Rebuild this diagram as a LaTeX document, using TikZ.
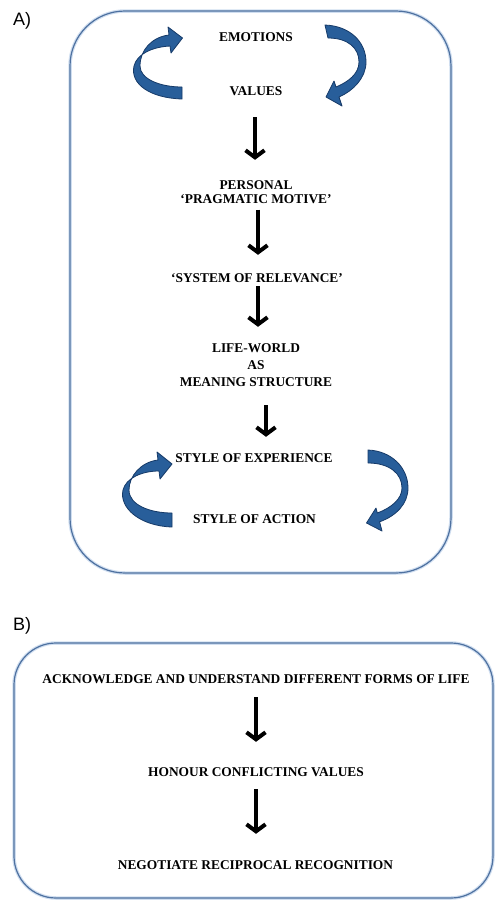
\documentclass[tikz,border=0pt]{standalone}
\usepackage{fontspec}
\setmainfont{Liberation Serif}
\newfontfamily\panelfont{Liberation Sans}
\usetikzlibrary{arrows.meta}
\definecolor{frameblue}{RGB}{78,113,160}
\definecolor{glowblue}{RGB}{208,222,240}
\definecolor{ribbon}{RGB}{40,94,154}
\definecolor{ribbonedge}{RGB}{22,58,104}
\tikzset{
  txt/.style={font=\bfseries\fontsize{13.4}{15}\selectfont, inner sep=0pt, text height=9pt, text depth=0pt},
  panel/.style={font=\panelfont\fontsize{18}{20}\selectfont, inner sep=0pt, anchor=west},
  flow/.style={line width=4pt, -{Straight Barb[length=7pt,width=19pt]}},
  glow/.style={draw=glowblue, line width=3.5pt},
  frame/.style={draw=frameblue, line width=1.2pt},
  ribbonpath/.style={fill=ribbon, draw=ribbonedge, line width=0.8pt, line join=round}
}

\begin{document}
\begin{tikzpicture}[x=1pt, y=-1pt]
    \useasboundingbox (0,0) rectangle (500,908);
    % Panel labels.
    \node[panel] (labA) at (13, 21) {A)};
    \node[panel] (labB) at (13, 626) {B)};
    % Frames.
    \draw[glow, rounded corners=55pt] (70, 11) rectangle (451, 573);
    \draw[frame, rounded corners=55pt] (70, 11) rectangle (451, 573);
    \draw[glow, rounded corners=42pt] (14, 643) rectangle (493, 898);
    \draw[frame, rounded corners=42pt] (14, 643) rectangle (493, 898);
    % Panel A texts.
    \node[txt] (emotions)   at (256, 36.5) {EMOTIONS};
    \node[txt] (values)     at (256, 90.5) {VALUES};
    \node[txt] (personal)   at (256, 184.5) {PERSONAL};
    \node[txt] (pragmatic)  at (256, 198.5) {‘PRAGMATIC MOTIVE’};
    \node[txt] (relevance)  at (257, 277.5) {‘SYSTEM OF RELEVANCE’};
    \node[txt] (lifeworld)  at (256, 347.5) {LIFE-WORLD};
    \node[txt] (as)         at (256, 365) {AS};
    \node[txt] (meaning)    at (256, 381.5) {MEANING STRUCTURE};
    \node[txt] (experience) at (254, 457.5) {STYLE OF EXPERIENCE};
    \node[txt] (action)     at (254.5, 519) {STYLE OF ACTION};
    % Panel A arrows.
    \draw[flow, shorten <=22pt, shorten >=20pt] ([xshift=-1pt]values.south) -- ([xshift=-1pt]personal.north);
    \draw[flow, shorten <=6.5pt, shorten >=18pt] ([xshift=2pt]pragmatic.south) -- ([xshift=1pt]relevance.north);
    \draw[flow, shorten <=4pt, shorten >=16pt] ([xshift=1pt]relevance.south) -- ([xshift=2pt]lifeworld.north);
    \draw[flow, shorten <=19pt, shorten >=16pt] ([xshift=10pt]meaning.south) -- ([xshift=12pt]experience.north);
    % Cycle ribbons, top pair.
    \draw[ribbonpath] (182,99) .. controls (150,98) and (130,84) .. (134,66)
        .. controls (137,54) and (152,47) .. (170,46)
        -- (171,53) -- (182.5,38) -- (168,27) -- (169,35)
        .. controls (152,37) and (140,50) .. (140,66)
        .. controls (140,79) and (160,87) .. (182,87) -- cycle;
    \draw[ribbonpath] (325,25) .. controls (350,26) and (366,42) .. (366,62)
        .. controls (366,78) and (353,91) .. (339,97)
        -- (342,106) -- (326,97) -- (334,81) -- (336,87)
        .. controls (348,82) and (359,74) .. (359,62)
        .. controls (359,48) and (348,38) .. (328,38) -- cycle;
    % Cycle ribbons, bottom pair.
    \draw[ribbonpath] (172,527) .. controls (140,526) and (119,508) .. (123,490)
        .. controls (126,478) and (142,471) .. (159,471)
        -- (160,479) -- (172,464) -- (157,452) -- (158,460)
        .. controls (141,462) and (129,476) .. (129,490)
        .. controls (129,505) and (150,513) .. (172,513) -- cycle;
    \draw[ribbonpath] (368,450) .. controls (392,451) and (408,468) .. (408,488)
        .. controls (408,504) and (396,516) .. (379.6,521.8)
        -- (382,531) -- (366.5,523) -- (376,508) -- (377.3,513)
        .. controls (391,508) and (402,499) .. (402,488)
        .. controls (402,474) and (390,463) .. (368,463) -- cycle;
    % Panel B texts.
    \node[txt] (acknowledge) at (256, 679) {ACKNOWLEDGE AND UNDERSTAND DIFFERENT FORMS OF LIFE};
    \node[txt] (honour)      at (256, 772) {HONOUR CONFLICTING VALUES};
    \node[txt] (negotiate)   at (255.5, 864.5) {NEGOTIATE RECIPROCAL RECOGNITION};
    % Panel B arrows.
    \draw[flow, shorten <=13.5pt, shorten >=25.5pt] (acknowledge.south) -- (honour.north);
    \draw[flow, shorten <=12.5pt, shorten >=26pt] (honour.south) -- ([xshift=0.5pt]negotiate.north);
\end{tikzpicture}
\end{document}
